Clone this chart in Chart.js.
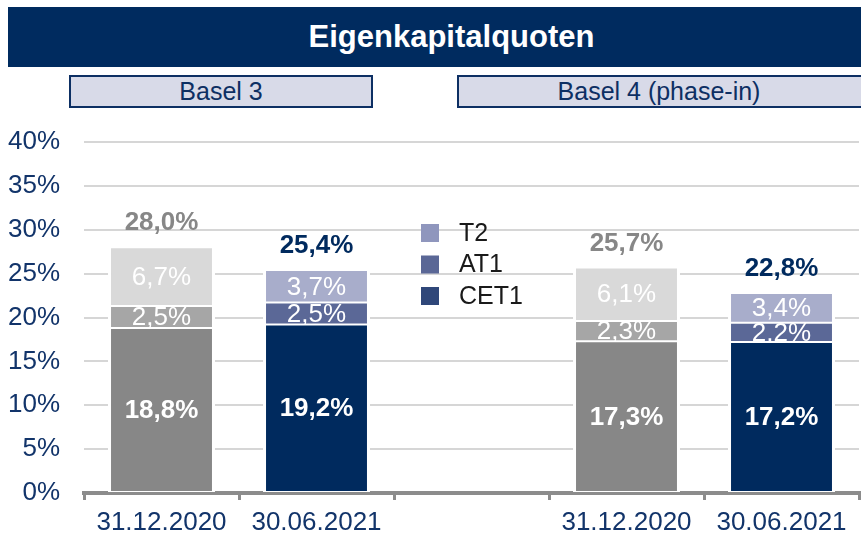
<!DOCTYPE html>
<html>
<head>
<meta charset="utf-8">
<script src="https://cdn.jsdelivr.net/npm/chart.js@4.4.1/dist/chart.umd.min.js"></script>
<style>
  html, body { margin: 0; padding: 0; background: #fff; }
  #wrap { position: relative; width: 861px; height: 537px; overflow: hidden; font-family: "Liberation Sans", Arial, sans-serif; }
  #grafico { position: absolute; left: 0; top: 0; }
  .titel { position: absolute; left: 8px; top: 7px; width: 853px; height: 60px; background: #002b5f; color: #fff;
           font-weight: bold; font-size: 31px; line-height: 60px; text-align: center; padding-left: 34px; box-sizing: border-box; }
  .basel { position: absolute; top: 75px; height: 33px; background: #d8dae8; border: 2px solid #0d2f63; box-sizing: border-box;
           color: #0d2f63; font-size: 25px; line-height: 29px; text-align: center; }
</style>
</head>
<body>
<div id="wrap">
  <canvas id="grafico" width="861" height="537"></canvas>
  <div class="titel">Eigenkapitalquoten</div>
  <div class="basel" style="left:69px;width:304px;">Basel 3</div>
  <div class="basel" style="left:457px;width:410px;padding-right:6px;">Basel 4 (phase-in)</div>
</div>
<script>
// ========= Daten =========
const kategorien = ['31.12.2020', '30.06.2021', '', '31.12.2020', '30.06.2021'];
const cet1 = [18.8, 19.2, null, 17.3, 17.2];
const at1 = [2.5, 2.5, null, 2.3, 2.2];
const t2 = [6.7, 3.7, null, 6.1, 3.4];
const gesamt = [28.0, 25.4, null, 25.7, 22.8];
const yTicks = [0, 5, 10, 15, 20, 25, 30, 35, 40];

// Farben: grau = 31.12.2020, blau = 30.06.2021
const farbeCet1 = ['#878787', '#002a5e', '#878787', '#878787', '#002a5e'];
const farbeAt1 = ['#a6a6a6', '#5b6897', '#a6a6a6', '#a6a6a6', '#5b6897'];
const farbeT2 = ['#d9d9d9', '#a8adcb', '#d9d9d9', '#d9d9d9', '#a8adcb'];
const farbeGesamt = ['#878787', '#002a5e', '#878787', '#878787', '#002a5e'];
const legendeFarben = { 'T2': '#8f96bd', 'AT1': '#5a6796', 'CET1': '#2f4779' };

const navy = '#12346a';
const fmt = v => v.toFixed(1).replace('.', ',') + '%';

// ========= Plugins =========
const labelPlugin = {
    id: 'segmentLabels',
    afterDatasetsDraw(chart) {
        const ctx = chart.ctx;
        ctx.save();
        ctx.textAlign = 'center';
        ctx.textBaseline = 'middle';
        chart.data.datasets.forEach((ds, i) => {
            const meta = chart.getDatasetMeta(i);
            meta.data.forEach((bar, j) => {
                const v = ds.data[j];
                if (v == null) return;
                const { x, y, base, width } = bar.getProps(['x', 'y', 'base', 'width'], true);
                // Label auf das eigene Segment beschneiden
                ctx.save();
                ctx.beginPath();
                ctx.rect(x - width / 2, Math.min(y, base), width, Math.abs(base - y));
                ctx.clip();
                ctx.fillStyle = '#ffffff';
                ctx.font = (ds.label === 'CET1' ? 'bold ' : '') + '26px "Liberation Sans", Arial, sans-serif';
                ctx.fillText(fmt(v), x, (y + base) / 2 + 1);
                ctx.restore();
            });
        });
        // Summen oberhalb
        const metaTop = chart.getDatasetMeta(chart.data.datasets.length - 1);
        ctx.font = 'bold 26px "Liberation Sans", Arial, sans-serif';
        metaTop.data.forEach((bar, j) => {
            if (gesamt[j] == null) return;
            const yTop = chart.scales.y.getPixelForValue(gesamt[j]);
            ctx.fillStyle = farbeGesamt[j];
            ctx.fillText(fmt(gesamt[j]), bar.x, yTop - 24);
        });
        ctx.restore();
    }
};

const legendePlugin = {
    id: 'legendeInnen',
    afterDraw(chart) {
        const ctx = chart.ctx;
        ctx.save();
        ctx.font = '25px "Liberation Sans", Arial, sans-serif';
        ctx.textBaseline = 'middle';
        ctx.textAlign = 'left';
        const eintraege = chart.data.datasets.map(d => d.label).reverse();
        eintraege.forEach((name, k) => {
            const yc = 233 + k * 31.5;
            ctx.fillStyle = legendeFarben[name];
            ctx.fillRect(421, yc - 9, 18, 18);
            ctx.fillStyle = '#1a1a1a';
            ctx.fillText(name, 459, yc + 1);
        });
        ctx.restore();
    }
};

// ========= Chart =========
const rand = { left: 3, right: 3, top: 1, bottom: 1 };
new Chart(document.getElementById('grafico'), {
    type: 'bar',
    data: {
        labels: kategorien,
        datasets: [
            { label: 'CET1', data: cet1, backgroundColor: farbeCet1, borderColor: '#ffffff', borderWidth: rand, borderSkipped: false },
            { label: 'AT1', data: at1, backgroundColor: farbeAt1, borderColor: '#ffffff', borderWidth: rand, borderSkipped: false },
            { label: 'T2', data: t2, backgroundColor: farbeT2, borderColor: '#ffffff', borderWidth: rand, borderSkipped: false }
        ]
    },
    plugins: [labelPlugin, legendePlugin],
    options: {
        responsive: false,
        animation: false,
        layout: { padding: { top: 142, right: 2, left: 0, bottom: 0 } },
        datasets: { bar: { barPercentage: 0.69, categoryPercentage: 1.0 } },
        plugins: { legend: { display: false }, tooltip: { enabled: false } },
        scales: {
            x: {
                stacked: true,
                afterFit: s => { s.height = 44; },
                grid: { drawOnChartArea: false, drawTicks: true, tickLength: 7, color: '#8c8c8c', lineWidth: 3, offset: true },
                border: { display: true, color: '#8c8c8c', width: 4 },
                ticks: { color: navy, padding: 7, font: { family: '"Liberation Sans", Arial, sans-serif', size: 26 }, maxRotation: 0, autoSkip: false }
            },
            y: {
                stacked: true,
                min: 0,
                max: 40,
                afterFit: s => { s.width = 84; },
                afterBuildTicks: s => { s.ticks = yTicks.map(v => ({ value: v })); },
                grid: { drawTicks: false, color: '#d6d6d6', lineWidth: 2 },
                border: { display: false },
                ticks: { color: navy, padding: 24, callback: v => v + '%', font: { family: '"Liberation Sans", Arial, sans-serif', size: 26 } }
            }
        }
    }
});
</script>
</body>
</html>
